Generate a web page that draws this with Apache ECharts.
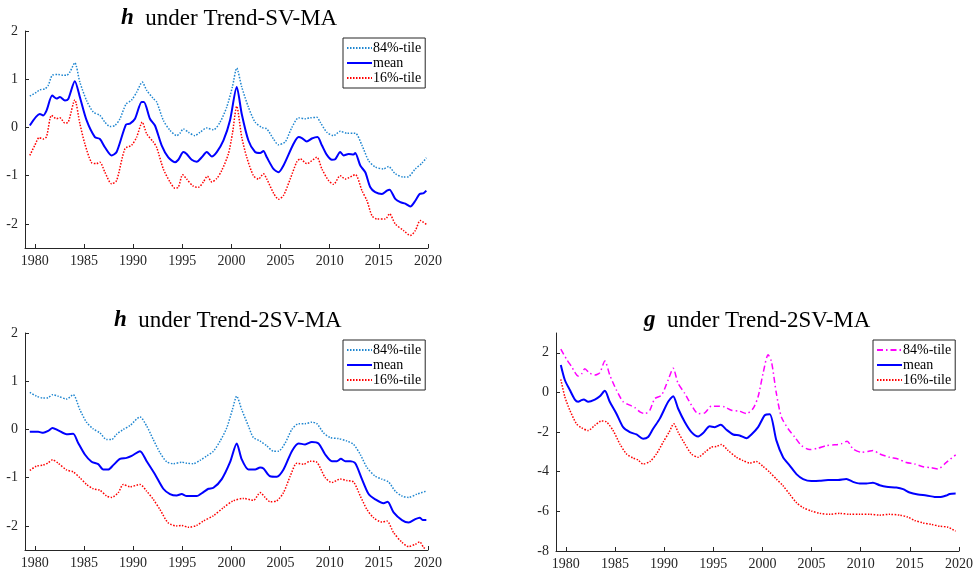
<!DOCTYPE html>
<html><head><meta charset="utf-8">
<script src="https://cdn.jsdelivr.net/npm/echarts@6.0.0/dist/echarts.min.js"></script>
<style>html,body{margin:0;padding:0;background:#fff}#c{width:978px;height:579px}</style>
</head><body><div id="c"></div>
<script>
// ---- tick labels ----
const xTicks = [1980, 1985, 1990, 1995, 2000, 2005, 2010, 2015, 2020];
const hTicks = [-2, -1, 0, 1, 2];
const gTicks = [-8, -6, -4, -2, 0, 2];
const legendLabels = {tl84:'84%-tile', tlm:'mean', tl16:'16%-tile', bl84:'84%-tile', blm:'mean', bl16:'16%-tile', br84:'84%-tile', brm:'mean', br16:'16%-tile'};

// ---- h under Trend-SV-MA ----
const tlMeanYears = [1979.49,1980.51,1980.85,1981.19,1981.77,1982.21,1982.55,1983.06,1983.40,1984.07,1984.58,1985.26,1986.11,1986.62,1987.13,1987.81,1988.32,1989.27,1989.68,1990.19,1990.87,1991.10,1991.71,1992.22,1992.90,1993.58,1994.26,1994.60,1995.11,1995.45,1995.96,1996.47,1996.98,1997.49,1998.00,1998.51,1999.19,1999.86,2000.54,2001.05,2001.73,2002.41,2002.92,2003.26,2003.60,2004.28,2004.79,2005.30,2006.32,2006.83,2007.17,2007.67,2008.18,2008.76,2009.20,2009.71,2010.22,2010.56,2011.07,2011.41,2011.92,2012.43,2012.60,2013.11,2013.62,2014.13,2014.63,2015.31,2015.82,2016.09,2016.67,2017.18,2017.69,2018.20,2018.71,2019.15,2019.56,2019.83];
const tlMean = [0.04,0.28,0.25,0.35,0.66,0.60,0.63,0.56,0.59,0.96,0.63,0.15,-0.20,-0.24,-0.41,-0.58,-0.51,0.06,0.08,0.18,0.53,0.53,0.18,0.04,-0.37,-0.62,-0.72,-0.67,-0.51,-0.55,-0.67,-0.71,-0.62,-0.51,-0.60,-0.51,-0.27,0.15,0.84,0.28,-0.27,-0.51,-0.53,-0.49,-0.62,-0.86,-0.93,-0.79,-0.34,-0.20,-0.22,-0.29,-0.23,-0.20,-0.37,-0.57,-0.67,-0.66,-0.51,-0.58,-0.55,-0.56,-0.53,-0.79,-0.93,-1.24,-1.34,-1.38,-1.31,-1.29,-1.48,-1.55,-1.58,-1.64,-1.52,-1.38,-1.36,-1.31];
const tl84Years = [1979.49,1980.17,1980.51,1981.02,1981.36,1981.77,1982.38,1982.89,1983.23,1983.57,1984.07,1984.58,1985.26,1985.94,1986.62,1987.13,1987.64,1988.15,1988.66,1989.27,1989.85,1990.36,1990.93,1991.38,1992.05,1992.39,1993.07,1993.75,1994.43,1994.77,1995.11,1995.62,1996.30,1996.81,1997.49,1998.17,1998.85,1999.52,2000.10,2000.54,2001.05,2001.73,2002.41,2003.09,2003.60,2004.28,2004.79,2005.47,2006.15,2006.83,2007.50,2008.01,2008.69,2009.03,2009.71,2010.39,2011.07,2011.75,2012.60,2013.28,2013.96,2014.63,2015.48,2015.99,2016.67,2017.52,2018.03,2018.71,2019.39,2019.83];
const tl84 = [0.65,0.73,0.78,0.80,0.87,1.08,1.10,1.08,1.08,1.15,1.34,0.94,0.56,0.32,0.25,0.11,0.02,0.04,0.18,0.48,0.57,0.73,0.94,0.77,0.60,0.53,0.15,-0.06,-0.17,-0.12,-0.03,-0.10,-0.17,-0.10,-0.01,-0.05,0.11,0.42,0.84,1.23,0.84,0.42,0.11,0.00,-0.03,-0.24,-0.36,-0.30,0.00,0.20,0.18,0.20,0.21,0.11,-0.10,-0.17,-0.08,-0.12,-0.12,-0.37,-0.69,-0.82,-0.86,-0.81,-0.96,-1.03,-1.02,-0.86,-0.74,-0.63];
const tl16Years = [1979.49,1980.00,1980.44,1980.85,1981.19,1981.70,1982.21,1982.55,1983.06,1983.40,1984.07,1984.58,1985.09,1985.77,1986.28,1986.62,1987.13,1987.81,1988.32,1989.17,1989.85,1990.36,1990.93,1991.38,1992.05,1992.39,1993.07,1993.75,1994.26,1994.60,1995.04,1995.45,1996.13,1996.64,1997.15,1997.56,1998.00,1998.51,1999.02,1999.69,2000.10,2000.54,2001.05,2001.56,2002.24,2002.75,2003.26,2003.60,2004.28,2004.79,2005.30,2005.98,2006.66,2007.00,2007.67,2008.69,2009.20,2009.88,2010.39,2011.07,2011.58,2012.60,2013.28,2013.79,2014.30,2014.80,2015.65,2016.09,2016.67,2017.52,2018.20,2018.71,2019.22,2019.83];
const tl16 = [-0.58,-0.37,-0.21,-0.24,-0.19,0.25,0.18,0.20,0.09,0.11,0.57,0.08,-0.34,-0.73,-0.75,-0.72,-0.93,-1.17,-1.10,-0.44,-0.37,-0.20,0.11,-0.13,-0.30,-0.41,-0.86,-1.13,-1.26,-1.24,-0.98,-1.07,-1.22,-1.24,-1.13,-1.01,-1.13,-1.06,-0.89,-0.55,-0.13,0.44,-0.20,-0.62,-1.00,-1.07,-0.96,-1.07,-1.36,-1.49,-1.41,-1.07,-0.71,-0.65,-0.75,-0.62,-0.86,-1.10,-1.18,-1.00,-1.07,-0.98,-1.31,-1.52,-1.83,-1.90,-1.90,-1.79,-2.00,-2.14,-2.24,-2.14,-1.93,-2.01];

// ---- h under Trend-2SV-MA ----
const blMeanYears = [1979.49,1980.34,1980.85,1981.36,1981.80,1982.38,1983.23,1983.90,1984.41,1985.09,1985.77,1986.45,1986.96,1987.47,1987.98,1988.66,1989.34,1989.85,1990.70,1991.38,1992.22,1993.07,1993.75,1994.43,1994.94,1995.45,1996.47,1997.15,1997.66,1998.17,1999.02,1999.86,2000.54,2001.05,2001.73,2002.41,2002.92,2003.26,2003.94,2004.62,2005.30,2006.15,2006.83,2007.50,2008.18,2008.86,2009.54,2010.22,2010.73,2011.14,2011.58,2012.09,2012.60,2013.28,2013.96,2014.63,2015.48,2015.89,2016.50,2017.35,2018.03,2018.71,2019.15,2019.49,2019.83];
const blMean = [-0.05,-0.05,-0.07,-0.03,0.03,-0.02,-0.10,-0.09,-0.28,-0.52,-0.67,-0.72,-0.83,-0.83,-0.74,-0.61,-0.59,-0.55,-0.45,-0.66,-0.93,-1.23,-1.34,-1.37,-1.34,-1.38,-1.38,-1.30,-1.23,-1.21,-1.03,-0.68,-0.29,-0.62,-0.83,-0.83,-0.79,-0.81,-0.97,-0.98,-0.83,-0.45,-0.29,-0.31,-0.26,-0.29,-0.52,-0.66,-0.66,-0.61,-0.66,-0.66,-0.70,-1.03,-1.34,-1.45,-1.53,-1.50,-1.72,-1.88,-1.93,-1.86,-1.83,-1.88,-1.88];
const bl84Years = [1979.49,1980.17,1980.85,1981.36,1981.80,1982.38,1983.23,1983.90,1984.58,1985.26,1985.94,1986.62,1987.30,1987.81,1988.32,1989.00,1989.68,1990.70,1991.38,1992.05,1992.73,1993.41,1994.09,1994.94,1995.45,1996.13,1996.81,1997.49,1998.17,1998.85,1999.52,2000.10,2000.54,2001.05,2001.73,2002.24,2002.92,2003.60,2004.28,2004.79,2005.47,2006.15,2006.83,2007.50,2008.18,2008.69,2009.37,2010.05,2010.90,2011.75,2012.43,2013.11,2013.79,2014.63,2015.31,2015.99,2016.67,2017.35,2018.03,2018.88,2019.83];
const bl84 = [0.77,0.69,0.65,0.66,0.72,0.69,0.63,0.72,0.41,0.15,0.01,-0.07,-0.21,-0.21,-0.10,0.00,0.08,0.26,0.07,-0.21,-0.48,-0.67,-0.71,-0.68,-0.70,-0.71,-0.64,-0.55,-0.45,-0.24,0.03,0.41,0.69,0.41,0.07,-0.17,-0.24,-0.34,-0.45,-0.45,-0.28,0.00,0.12,0.12,0.15,0.12,-0.07,-0.17,-0.19,-0.24,-0.31,-0.52,-0.79,-0.97,-1.03,-1.09,-1.28,-1.38,-1.41,-1.34,-1.28];
const bl16Years = [1979.49,1980.17,1980.85,1981.36,1981.80,1982.38,1983.23,1983.90,1984.58,1985.26,1985.94,1986.62,1987.30,1987.81,1988.49,1989.00,1989.68,1990.70,1991.38,1992.05,1992.73,1993.58,1994.43,1994.94,1995.62,1996.47,1997.15,1998.17,1999.19,2000.20,2001.22,2002.24,2002.92,2003.43,2003.94,2004.62,2005.30,2005.98,2006.66,2007.33,2008.01,2008.69,2009.54,2010.22,2011.07,2011.75,2012.43,2013.11,2013.79,2014.46,2015.31,2015.82,2016.50,2017.35,2018.03,2018.71,2019.15,2019.56,2019.83];
const bl16 = [-0.85,-0.76,-0.74,-0.69,-0.63,-0.70,-0.84,-0.88,-1.00,-1.14,-1.23,-1.26,-1.38,-1.41,-1.31,-1.14,-1.19,-1.14,-1.28,-1.45,-1.66,-1.94,-2.00,-1.99,-2.03,-1.99,-1.90,-1.79,-1.62,-1.48,-1.43,-1.47,-1.31,-1.41,-1.50,-1.48,-1.31,-0.97,-0.70,-0.72,-0.66,-0.68,-1.00,-1.10,-1.03,-1.06,-1.09,-1.38,-1.66,-1.83,-1.92,-1.90,-2.14,-2.34,-2.43,-2.38,-2.33,-2.45,-2.48];

// ---- g under Trend-2SV-MA ----
const brMeanYears = [1979.49,1979.90,1980.41,1980.92,1981.25,1981.59,1981.83,1982.27,1982.95,1983.46,1983.97,1984.47,1985.15,1985.83,1986.51,1987.19,1987.86,1988.37,1988.88,1989.56,1990.41,1990.92,1991.42,1992.10,1992.78,1993.46,1993.97,1994.64,1995.15,1995.76,1996.34,1997.02,1997.69,1998.37,1998.88,1999.56,2000.24,2000.75,2001.42,2002.10,2002.78,2003.46,2004.14,2004.98,2005.83,2006.68,2007.69,2008.54,2009.22,2009.90,2010.58,2011.25,2011.93,2012.61,2013.63,2014.31,2014.98,2015.83,2016.68,2017.53,2018.03,2018.71,2019.05,2019.66];
const brMean = [1.39,0.63,0.12,-0.36,-0.47,-0.39,-0.36,-0.47,-0.36,-0.19,0.08,-0.47,-1.07,-1.75,-2.00,-2.12,-2.34,-2.25,-1.83,-1.32,-0.47,-0.19,-0.81,-1.49,-2.00,-2.22,-2.05,-1.71,-1.75,-1.63,-1.88,-2.12,-2.17,-2.31,-2.12,-1.75,-1.15,-1.10,-2.42,-3.27,-3.69,-4.12,-4.37,-4.47,-4.46,-4.42,-4.42,-4.37,-4.51,-4.59,-4.59,-4.56,-4.68,-4.76,-4.80,-4.88,-5.05,-5.15,-5.20,-5.27,-5.28,-5.20,-5.12,-5.10];
const br84Years = [1979.49,1980.07,1980.58,1981.25,1981.59,1981.93,1982.44,1982.95,1983.46,1983.97,1984.47,1985.15,1985.83,1986.51,1987.02,1987.53,1988.03,1988.54,1989.05,1989.73,1990.41,1990.92,1991.42,1992.10,1992.78,1993.46,1994.14,1994.81,1995.49,1996.17,1996.85,1997.69,1998.37,1999.05,1999.56,2000.07,2000.58,2000.92,2001.42,2001.93,2002.61,2003.29,2003.97,2004.81,2005.66,2006.51,2007.36,2008.03,2008.61,2009.22,2010.07,2010.75,2011.25,2011.93,2012.95,2013.80,2014.64,2015.49,2016.34,2017.19,2017.86,2018.71,2019.66];
const br84 = [2.19,1.68,1.31,0.83,0.93,1.19,0.97,0.88,1.00,1.59,0.88,0.12,-0.47,-0.64,-0.76,-0.98,-1.07,-0.90,-0.31,-0.14,0.63,1.22,0.46,-0.05,-0.64,-1.07,-1.03,-0.69,-0.69,-0.73,-0.90,-0.95,-1.07,-0.81,-0.22,0.97,1.90,1.56,-0.05,-1.24,-1.83,-2.25,-2.68,-2.88,-2.81,-2.68,-2.64,-2.59,-2.46,-2.85,-3.02,-2.98,-2.93,-3.10,-3.27,-3.36,-3.53,-3.61,-3.75,-3.80,-3.86,-3.53,-3.15];
const br16Years = [1979.49,1979.90,1980.41,1981.08,1981.59,1982.27,1982.95,1983.63,1984.14,1984.81,1985.49,1986.17,1986.85,1987.36,1987.86,1988.54,1989.22,1989.90,1990.51,1990.98,1991.42,1992.10,1992.78,1993.46,1994.14,1994.81,1995.32,1995.83,1996.51,1997.36,1998.03,1998.71,1999.39,2000.07,2000.75,2001.42,2002.10,2002.78,2003.46,2004.14,2004.98,2005.83,2006.85,2007.86,2008.88,2009.90,2010.92,2011.93,2012.95,2013.97,2014.81,2015.49,2016.34,2017.19,2018.03,2018.88,2019.66];
const br16 = [0.66,-0.22,-0.90,-1.58,-1.78,-1.92,-1.66,-1.44,-1.49,-1.92,-2.59,-3.10,-3.31,-3.41,-3.61,-3.49,-3.10,-2.51,-2.00,-1.58,-2.00,-2.59,-3.10,-3.27,-3.02,-2.76,-2.73,-2.63,-2.93,-3.27,-3.44,-3.56,-3.49,-3.73,-4.03,-4.37,-4.71,-5.14,-5.56,-5.81,-5.98,-6.10,-6.15,-6.10,-6.15,-6.15,-6.15,-6.19,-6.15,-6.19,-6.29,-6.46,-6.58,-6.66,-6.75,-6.80,-7.00];

// ---- build ----
const FONT = 'Liberation Serif';
const AX = '#262626';
function zip(xs, ys) { return xs.map((x, i) => [x, ys[i]]); }
function xAxis(gi) {
  return {type:'value', gridIndex:gi, min:1979, max:2020,
    axisLine:{show:true, onZero:false, lineStyle:{color:AX, width:1}},
    axisTick:{show:true, inside:true, length:4, customValues:xTicks, lineStyle:{color:AX}},
    axisLabel:{customValues:xTicks, formatter:(v) => String(v), margin:6, color:AX, fontFamily:FONT, fontSize:14},
    splitLine:{show:false}};
}
function yAxis(gi, min, max, ticks) {
  return {type:'value', gridIndex:gi, min:min, max:max,
    axisLine:{show:true, onZero:false, lineStyle:{color:AX, width:1}},
    axisTick:{show:true, inside:true, length:4, customValues:ticks, lineStyle:{color:AX}},
    axisLabel:{customValues:ticks, formatter:(v) => String(v), margin:7, color:AX, fontFamily:FONT, fontSize:14},
    splitLine:{show:false}};
}
const DOT = [1.5, 1.5];
function line(name, gi, xs, ys, color, width, type) {
  return {name:name, type:'line', xAxisIndex:gi, yAxisIndex:gi, data:zip(xs, ys),
    symbol:'none', showSymbol:false, animation:false, smooth:0.25,
    lineStyle:{color:color, width:width, type:type}, itemStyle:{color:color}};
}
function legend(names, left, top) {
  return {data:names, left:left, top:top, orient:'vertical', itemGap:1, itemWidth:25, itemHeight:12,
    padding:[3,4,3,3], borderColor:AX, borderWidth:1, backgroundColor:'#fff', selectedMode:false,
    itemStyle:{opacity:0}, lineStyle:{opacity:1},
    formatter:(n) => legendLabels[n],
    textStyle:{fontFamily:FONT, fontSize:14, color:'#000', padding:[0,0,0,-4]}};
}
function title(varName, rest, left, top) {
  return {text:'{v|' + varName + '}  {r|' + rest + '}', left:left, top:top, padding:0,
    textStyle:{fontFamily:FONT, fontSize:23, fontWeight:'normal', color:'#000',
      rich:{v:{fontFamily:FONT, fontSize:23, fontWeight:'bold', fontStyle:'italic', color:'#000'},
            r:{fontFamily:FONT, fontSize:23, color:'#000'}}}};
}
const BLUE84 = '#1f86d0';
const option = {
  backgroundColor:'#fff',
  animation:false,
  title:[title('h', 'under Trend-SV-MA', 121, 7), title('h', 'under Trend-2SV-MA', 114, 309), title('g', 'under Trend-2SV-MA', 644, 309)],
  grid:[{left:25, top:31, width:403, height:217}, {left:25, top:333, width:403, height:217}, {left:556, top:333, width:403, height:218}],
  xAxis:[xAxis(0), xAxis(1), xAxis(2)],
  yAxis:[yAxis(0, -2.5, 2, hTicks), yAxis(1, -2.5, 2, hTicks), yAxis(2, -8, 3, gTicks)],
  legend:[legend(['tl84','tlm','tl16'], 343, 38), legend(['bl84','blm','bl16'], 343, 340), legend(['br84','brm','br16'], 873, 340)],
  series:[
    line('tl84', 0, tl84Years, tl84, BLUE84, 1.5, DOT),
    line('tlm', 0, tlMeanYears, tlMean, '#0000ff', 2, 'solid'),
    line('tl16', 0, tl16Years, tl16, '#ff0000', 1.5, DOT),
    line('bl84', 1, bl84Years, bl84, BLUE84, 1.5, DOT),
    line('blm', 1, blMeanYears, blMean, '#0000ff', 2, 'solid'),
    line('bl16', 1, bl16Years, bl16, '#ff0000', 1.5, DOT),
    line('br84', 2, br84Years, br84, '#ff00ff', 1.5, [6, 3, 1.5, 3]),
    line('brm', 2, brMeanYears, brMean, '#0000ff', 2, 'solid'),
    line('br16', 2, br16Years, br16, '#ff0000', 1.5, DOT)
  ]
};
const chart = echarts.init(document.getElementById('c'), null, {renderer:'canvas'});
chart.setOption(option);
</script>
</body></html>
